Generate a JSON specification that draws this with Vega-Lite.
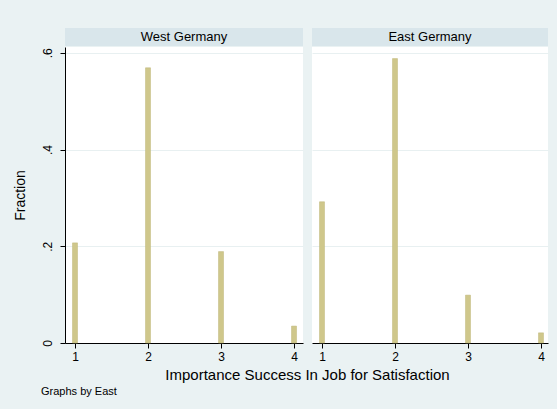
{
  "$schema": "https://vega.github.io/schema/vega-lite/v6.json",
  "background": "#eaf2f3",
  "padding": {"left": 13, "top": 28, "right": 9, "bottom": 12},
  "datasets": {
    "bars": [
      {"region": "West Germany", "value": 1, "fraction": 0.207},
      {"region": "West Germany", "value": 2, "fraction": 0.569},
      {"region": "West Germany", "value": 3, "fraction": 0.189},
      {"region": "West Germany", "value": 4, "fraction": 0.035},
      {"region": "East Germany", "value": 1, "fraction": 0.292},
      {"region": "East Germany", "value": 2, "fraction": 0.588},
      {"region": "East Germany", "value": 3, "fraction": 0.099},
      {"region": "East Germany", "value": 4, "fraction": 0.021}
    ],
    "strips": [
      {"label": "West Germany"},
      {"label": "East Germany"}
    ]
  },
  "title": {"text": "Graphs by East", "orient": "bottom", "anchor": "start", "frame": "bounds", "fontSize": 11, "fontWeight": "normal", "color": "#000", "font": "Liberation Sans", "dx": 28, "offset": 3},
  "bounds": "flush",
  "vconcat": [
    {
      "columns": 2,
      "bounds": "flush",
      "spacing": {"row": 1, "column": 9},
      "title": {"text": "Importance Success In Job for Satisfaction", "orient": "bottom", "anchor": "middle", "frame": "bounds", "fontSize": 15, "fontWeight": "normal", "color": "#000", "font": "Liberation Sans", "offset": 6, "dx": 27},
      "concat": [
        {
          "width": 238, "height": 18,
          "view": {"fill": "#d9e6eb", "stroke": null},
          "data": {"name": "strips"},
          "transform": [{"filter": "datum.label == 'West Germany'"}],
          "mark": {"type": "text", "fontSize": 13, "baseline": "middle", "align": "center", "color": "#000"},
          "encoding": {"text": {"field": "label", "type": "nominal"}}
        },
        {
          "width": 236, "height": 18,
          "view": {"fill": "#d9e6eb", "stroke": null},
          "data": {"name": "strips"},
          "transform": [{"filter": "datum.label == 'East Germany'"}],
          "mark": {"type": "text", "fontSize": 13, "baseline": "middle", "align": "center", "color": "#000"},
          "encoding": {"text": {"field": "label", "type": "nominal"}}
        },
        {
          "width": 238, "height": 296,
          "view": {"fill": "#ffffff", "stroke": null},
          "data": {"name": "bars"},
          "transform": [{"filter": "datum.region == 'West Germany'"}],
          "mark": {"type": "bar", "orient": "vertical", "size": 5, "fill": "#cfc78b", "stroke": "#bfb679", "strokeWidth": 0.5},
          "encoding": {
            "x": {"field": "value", "type": "quantitative", "scale": {"domain": [0.863, 4.123], "nice": false, "zero": false, "padding": 0},
              "axis": {"values": [1, 2, 3, 4], "format": "d", "grid": false, "title": null, "labelPadding": 3}},
            "y": {"field": "fraction", "type": "quantitative", "scale": {"domain": [0, 0.612], "nice": false},
              "axis": {"values": [0, 0.2, 0.4, 0.6], "labelExpr": "datum.value == 0 ? '0' : replace(format(datum.value, '.1f'), '0.', '.')", "labelAngle": -90, "title": "Fraction", "grid": true, "labelPadding": 6, "titlePadding": 14, "titleFontSize": 14}}
          }
        },
        {
          "width": 236, "height": 296,
          "view": {"fill": "#ffffff", "stroke": null},
          "data": {"name": "bars"},
          "transform": [{"filter": "datum.region == 'East Germany'"}],
          "mark": {"type": "bar", "orient": "vertical", "size": 5, "fill": "#cfc78b", "stroke": "#bfb679", "strokeWidth": 0.5},
          "encoding": {
            "x": {"field": "value", "type": "quantitative", "scale": {"domain": [0.863, 4.096], "nice": false, "zero": false, "padding": 0},
              "axis": {"values": [1, 2, 3, 4], "format": "d", "grid": false, "title": null, "labelPadding": 3}},
            "y": {"field": "fraction", "type": "quantitative", "scale": {"domain": [0, 0.612], "nice": false},
              "axis": {"values": [0.2, 0.4, 0.6], "labels": false, "ticks": false, "domain": false, "title": null, "grid": true, "minExtent": 0}}
          }
        }
      ]
    }
  ],
  "config": {
    "font": "Liberation Sans",
    "axis": {
      "domainColor": "#000", "tickColor": "#000", "labelColor": "#000", "titleColor": "#000",
      "labelFontSize": 12, "titleFontWeight": "normal", "tickSize": 5, "labelPadding": 2,
      "gridColor": "#e8f0f1", "gridWidth": 1, "domainWidth": 1, "tickWidth": 1
    }
  }
}
